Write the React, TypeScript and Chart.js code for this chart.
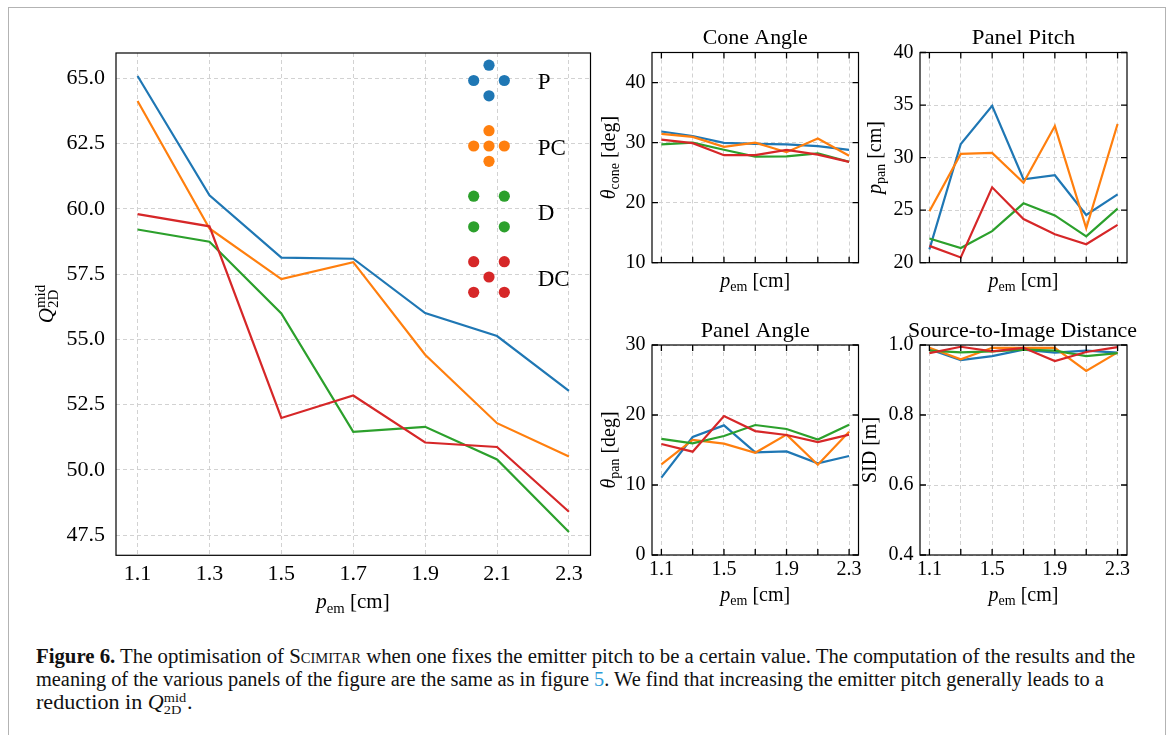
import React, { useEffect, useLayoutEffect, useRef } from "react";
import { Chart, registerables } from "chart.js";
Chart.register(...registerables);

const FONT = '"Liberation Serif", "Times New Roman", serif';
Chart.defaults.font.family = FONT;
Chart.defaults.color = "#000";

// ---------- data ----------
const pEm = [1.1, 1.3, 1.5, 1.7, 1.9, 2.1, 2.3];
const seriesLabels = ["P", "PC", "D", "DC"];
const seriesColors = ["#1f77b4", "#ff7f0e", "#2ca02c", "#d62728"];

// Q_2D^mid (main panel)
const qP = [65.09, 60.52, 58.13, 58.09, 56.01, 55.13, 53.03];
const qPC = [64.13, 59.25, 57.31, 57.96, 54.41, 51.79, 50.51];
const qD = [59.21, 58.74, 55.99, 51.46, 51.65, 50.4, 47.62];
const qDC = [59.8, 59.33, 51.99, 52.85, 51.05, 50.88, 48.4];

// Cone angle [deg]
const coneP = [31.84, 31.1, 29.95, 29.8, 29.7, 29.4, 28.8];
const conePC = [31.45, 30.95, 29.3, 30.0, 28.4, 30.67, 27.8];
const coneD = [29.7, 30.0, 28.8, 27.66, 27.7, 28.2, 26.8];
const coneDC = [30.5, 29.9, 27.9, 27.9, 28.78, 28.0, 26.8];

// Panel pitch [cm]
const pitchP = [21.27, 31.3, 34.92, 27.94, 28.32, 24.54, 26.5];
const pitchPC = [24.9, 30.35, 30.44, 27.6, 33.0, 23.27, 33.2];
const pitchD = [22.3, 21.4, 23.0, 25.65, 24.5, 22.5, 25.14];
const pitchDC = [21.6, 20.5, 27.17, 24.16, 22.7, 21.75, 23.6];

// Panel angle [deg]
const angP = [11.05, 16.86, 18.52, 14.67, 14.8, 13.1, 14.14];
const angPC = [12.95, 16.43, 15.9, 14.6, 17.2, 12.9, 17.6];
const angD = [16.6, 15.95, 17.0, 18.57, 18.0, 16.5, 18.6];
const angDC = [15.86, 14.76, 19.86, 17.7, 17.14, 16.14, 17.2];

// Source-to-image distance [m]
const sidP = [0.988, 0.957, 0.968, 0.987, 0.978, 0.984, 0.978];
const sidPC = [0.992, 0.959, 0.992, 0.992, 0.992, 0.926, 0.979];
const sidD = [0.984, 0.979, 0.982, 0.987, 0.984, 0.968, 0.977];
const sidDC = [0.977, 0.995, 0.982, 0.992, 0.954, 0.98, 0.994];

// ticks
const qTicks = [47.5, 50, 52.5, 55, 57.5, 60, 62.5, 65];
const coneTicks = [10, 20, 30, 40];
const pitchTicks = [20, 25, 30, 35, 40];
const angleTicks = [0, 10, 20, 30];
const sidTicks = [0.4, 0.6, 0.8, 1.0];

// legend glyph patterns (detector layouts)
const legendPatterns: number[][][] = [
  [[0, -1], [-1, 0], [1, 0], [0, 1]],
  [[0, -1], [-1, 0], [0, 0], [1, 0], [0, 1]],
  [[-1, -1], [1, -1], [-1, 1], [1, 1]],
  [[-1, -1], [1, -1], [0, 0], [-1, 1], [1, 1]],
];

// ---------- rich text ----------
type Part = { t: string; it?: boolean; sz: number; dy?: number; stack?: boolean };
type Txt = { parts: Part[]; x: number; y: number; rot?: number; fitW?: number; left?: boolean };

function fontOf(p: Part) {
  return `${p.it ? "italic " : ""}${p.sz}px ${FONT}`;
}
function measureParts(ctx: CanvasRenderingContext2D, parts: Part[]) {
  let w = 0;
  let stackW = -1;
  for (const p of parts) {
    ctx.font = fontOf(p);
    const pw = ctx.measureText(p.t).width;
    if (p.stack) {
      stackW = pw;
      continue;
    }
    if (stackW >= 0) {
      w += Math.max(pw, stackW);
      stackW = -1;
    } else w += pw;
  }
  if (stackW >= 0) w += stackW;
  return w;
}
function drawParts(ctx: CanvasRenderingContext2D, txt: Txt, ox: number, oy: number) {
  ctx.save();
  ctx.translate(txt.x - ox, txt.y - oy);
  if (txt.rot) ctx.rotate(txt.rot);
  const w = measureParts(ctx, txt.parts);
  if (txt.fitW) ctx.scale(txt.fitW / w, 1);
  let cx = txt.left ? 0 : -w / 2;
  ctx.fillStyle = "#000";
  ctx.textBaseline = "alphabetic";
  ctx.textAlign = "left";
  let stackW = -1;
  for (const p of txt.parts) {
    ctx.font = fontOf(p);
    const pw = ctx.measureText(p.t).width;
    ctx.fillText(p.t, cx, p.dy || 0);
    if (p.stack) {
      stackW = pw;
      continue;
    }
    if (stackW >= 0) {
      cx += Math.max(pw, stackW);
      stackW = -1;
    } else cx += pw;
  }
  ctx.restore();
}

const pemParts = (s: number): Part[] => [
  { t: "p", it: true, sz: s },
  { t: "em", sz: s * 0.7, dy: s * 0.22 },
  { t: " [cm]", sz: s },
];
const subParts = (sym: string, sub: string, unit: string, s: number): Part[] => [
  { t: sym, it: true, sz: s },
  { t: sub, sz: s * 0.7, dy: s * 0.22 },
  { t: unit, sz: s },
];

// ---------- panel ----------
type PanelSpec = {
  rect: number[];
  area: number[];
  xRange: number[];
  yRange: number[];
  xTicks: number[];
  yTicks: number[];
  xFmt: (v: number, i: number) => string;
  yFmt: (v: number) => string;
  showX: boolean;
  tickSize: number;
  xPad: number;
  yPad: number;
  series: number[][];
  innerTicks: boolean;
  texts: Txt[];
  legend?: boolean;
};

function Panel({ spec }: { spec: PanelSpec }) {
  const ref = useRef<HTMLCanvasElement>(null);
  useEffect(() => {
    const [rx, ry, rw, rh] = spec.rect;
    const [al, at, ar, ab] = spec.area;
    const deco = {
      id: "deco",
      afterDraw(chart: any) {
        const ctx: CanvasRenderingContext2D = chart.ctx;
        const a = chart.chartArea;
        const xs = chart.scales.x;
        const ys = chart.scales.y;
        ctx.save();
        ctx.strokeStyle = "#000";
        ctx.lineWidth = 1.3;
        if (spec.innerTicks) {
          ctx.beginPath();
          for (const v of spec.xTicks) {
            const px = xs.getPixelForValue(v);
            ctx.moveTo(px, a.bottom);
            ctx.lineTo(px, a.bottom - 6);
            ctx.moveTo(px, a.top);
            ctx.lineTo(px, a.top + 6);
          }
          for (const v of spec.yTicks) {
            const py = ys.getPixelForValue(v);
            ctx.moveTo(a.left, py);
            ctx.lineTo(a.left + 6, py);
            ctx.moveTo(a.right, py);
            ctx.lineTo(a.right - 6, py);
          }
          ctx.stroke();
        }
        ctx.lineWidth = 1.2;
        ctx.strokeRect(a.left, a.top, a.right - a.left, a.bottom - a.top);
        ctx.restore();
        for (const t of spec.texts) drawParts(ctx, t, rx, ry);
        if (spec.legend) {
          const unit = 15.3;
          const cx = a.left + 373;
          legendPatterns.forEach((pat, i) => {
            const cy = a.top + 27.5 + i * 65.5;
            ctx.save();
            ctx.fillStyle = seriesColors[i];
            for (const [dx, dy] of pat) {
              ctx.beginPath();
              ctx.arc(cx + dx * unit, cy + dy * unit, 5.6, 0, Math.PI * 2);
              ctx.fill();
            }
            ctx.fillStyle = "#000";
            ctx.font = `23px ${FONT}`;
            ctx.textAlign = "left";
            ctx.textBaseline = "alphabetic";
            ctx.fillText(seriesLabels[i], cx + 48.7, cy + 8.5);
            ctx.restore();
          });
        }
      },
    };
    const datasets = spec.series.map((s, i) => ({
      label: seriesLabels[i],
      data: pEm.map((x, j) => ({ x, y: s[j] })),
      borderColor: seriesColors[i],
      backgroundColor: seriesColors[i],
      borderWidth: 2.2,
      pointRadius: 0,
      tension: 0,
      fill: false,
      order: 3 - i,
    }));
    const grid = { color: "#d2d2d2", lineWidth: 1, drawTicks: false };
    const border = { display: false, dash: [4, 3] };
    const chart = new Chart(ref.current as HTMLCanvasElement, {
      type: "line",
      data: { datasets },
      options: {
        animation: false,
        responsive: false,
        devicePixelRatio: 1,
        layout: { padding: { top: at - ry, right: rx + rw - ar, left: 0, bottom: 0 } },
        plugins: { legend: { display: false }, tooltip: { enabled: false }, title: { display: false } },
        events: [],
        scales: {
          x: {
            type: "linear",
            min: spec.xRange[0],
            max: spec.xRange[1],
            afterBuildTicks: (s: any) => {
              s.ticks = spec.xTicks.map((v) => ({ value: v }));
            },
            afterFit: (s: any) => {
              s.height = ry + rh - ab;
              s.paddingLeft = 0;
              s.paddingRight = 0;
            },
            ticks: {
              display: spec.showX,
              autoSkip: false,
              maxRotation: 0,
              minRotation: 0,
              padding: spec.xPad,
              font: { size: spec.tickSize, family: FONT },
              color: "#000",
              callback: (v: any, i: number) => spec.xFmt(Number(v), i),
            },
            grid,
            border,
          },
          y: {
            type: "linear",
            min: spec.yRange[0],
            max: spec.yRange[1],
            afterBuildTicks: (s: any) => {
              s.ticks = spec.yTicks.map((v) => ({ value: v }));
            },
            afterFit: (s: any) => {
              s.width = al - rx;
              s.paddingTop = 0;
              s.paddingBottom = 0;
            },
            ticks: {
              autoSkip: false,
              padding: spec.yPad,
              font: { size: spec.tickSize, family: FONT },
              color: "#000",
              callback: (v: any) => spec.yFmt(Number(v)),
            },
            grid,
            border,
          },
        },
      },
      plugins: [deco],
    } as any);
    return () => chart.destroy();
  }, []);
  const [rx, ry, rw, rh] = spec.rect;
  return (
    <canvas
      ref={ref}
      width={rw}
      height={rh}
      style={{ position: "absolute", left: rx, top: ry, width: rw, height: rh }}
    />
  );
}

// ---------- layout ----------
const xR = [1.04, 2.36];
const fmt1 = (v: number) => v.toFixed(1);
const fmtInt = (v: number) => String(Math.round(v));
const everyOther = (v: number, i: number) => (i % 2 === 0 ? v.toFixed(1) : "");
const ROT = -Math.PI / 2;

const mainSpec: PanelSpec = {
  rect: [0, 0, 600, 625],
  area: [116, 53, 590.5, 555.3],
  xRange: xR,
  yRange: [46.73, 65.97],
  xTicks: pEm,
  yTicks: qTicks,
  xFmt: (v) => v.toFixed(1),
  yFmt: fmt1,
  showX: true,
  tickSize: 22,
  xPad: 6,
  yPad: 11,
  series: [qP, qPC, qD, qDC],
  innerTicks: false,
  legend: true,
  texts: [
    { parts: pemParts(21), x: 353, y: 608 },
    {
      parts: [
        { t: "Q", it: true, sz: 21 },
        { t: "mid", sz: 15, dy: -8, stack: true },
        { t: "2D", sz: 15, dy: 5 },
      ],
      x: 53,
      y: 304,
      rot: ROT,
    },
  ],
};

const L1 = 652, R1 = 858.5, L2 = 920, R2 = 1127;
const T1 = 52.5, B1 = 262.7, T2 = 345, B2 = 555;

const coneSpec: PanelSpec = {
  rect: [592, 0, 278, 300],
  area: [L1, T1, R1, B1],
  xRange: xR,
  yRange: [10, 45],
  xTicks: pEm,
  yTicks: coneTicks,
  xFmt: everyOther,
  yFmt: fmtInt,
  showX: false,
  tickSize: 20,
  xPad: 3,
  yPad: 6.5,
  series: [coneP, conePC, coneD, coneDC],
  innerTicks: true,
  texts: [
    { parts: [{ t: "Cone Angle", sz: 21 }], x: (L1 + R1) / 2, y: 44, fitW: 105 },
    { parts: pemParts(20), x: (L1 + R1) / 2, y: 287 },
    { parts: subParts("θ", "cone", " [deg]", 20), x: 615, y: (T1 + B1) / 2, rot: ROT },
  ],
};

const pitchSpec: PanelSpec = {
  rect: [862, 0, 300, 300],
  area: [L2, T1, R2, B1],
  xRange: xR,
  yRange: [20, 40],
  xTicks: pEm,
  yTicks: pitchTicks,
  xFmt: everyOther,
  yFmt: fmtInt,
  showX: false,
  tickSize: 20,
  xPad: 3,
  yPad: 6.5,
  series: [pitchP, pitchPC, pitchD, pitchDC],
  innerTicks: true,
  texts: [
    { parts: [{ t: "Panel Pitch", sz: 21 }], x: (L2 + R2) / 2, y: 44, fitW: 103.5 },
    { parts: pemParts(20), x: (L2 + R2) / 2, y: 287 },
    { parts: subParts("p", "pan", " [cm]", 20), x: 881, y: (T1 + B1) / 2, rot: ROT },
  ],
};

const angleSpec: PanelSpec = {
  rect: [592, 300, 278, 320],
  area: [L1, T2, R1, B2],
  xRange: xR,
  yRange: [0, 30],
  xTicks: pEm,
  yTicks: angleTicks,
  xFmt: everyOther,
  yFmt: fmtInt,
  showX: true,
  tickSize: 20,
  xPad: 3,
  yPad: 6.5,
  series: [angP, angPC, angD, angDC],
  innerTicks: true,
  texts: [
    { parts: [{ t: "Panel Angle", sz: 21 }], x: (L1 + R1) / 2, y: 337, fitW: 109 },
    { parts: pemParts(20), x: (L1 + R1) / 2, y: 601 },
    { parts: subParts("θ", "pan", " [deg]", 20), x: 615, y: (T2 + B2) / 2, rot: ROT },
  ],
};

const sidSpec: PanelSpec = {
  rect: [862, 300, 300, 320],
  area: [L2, T2, R2, B2],
  xRange: xR,
  yRange: [0.4, 1.0],
  xTicks: pEm,
  yTicks: sidTicks,
  xFmt: everyOther,
  yFmt: fmt1,
  showX: true,
  tickSize: 20,
  xPad: 3,
  yPad: 6.5,
  series: [sidP, sidPC, sidD, sidDC],
  innerTicks: true,
  texts: [
    { parts: [{ t: "Source-to-Image Distance", sz: 21 }], x: (L2 + R2) / 2 - 1, y: 337, fitW: 229 },
    { parts: pemParts(20), x: (L2 + R2) / 2, y: 601 },
    { parts: [{ t: "SID [m]", sz: 20 }], x: 875.5, y: (T2 + B2) / 2, rot: ROT },
  ],
};

// ---------- caption ----------
const CAP_SIZE = 20;
function CapLine({ top, target, children }: { top: number; target: number; children: any }) {
  const ref = useRef<HTMLDivElement>(null);
  useLayoutEffect(() => {
    const el = ref.current;
    if (!el) return;
    const w = el.offsetWidth;
    el.style.transform = `scaleX(${target / w})`;
  }, []);
  return (
    <div
      ref={ref}
      style={{
        position: "absolute",
        left: 36,
        top,
        whiteSpace: "nowrap",
        display: "inline-block",
        transformOrigin: "0 0",
        fontFamily: FONT,
        fontSize: CAP_SIZE,
        lineHeight: `${CAP_SIZE}px`,
        color: "#111",
      }}
    >
      {children}
    </div>
  );
}

function QMid() {
  return (
    <>
      <i>Q</i>
      <span style={{ position: "relative", display: "inline-block", width: 21, height: 0 }}>
        <span style={{ position: "absolute", left: 0, top: -18, fontSize: 13, lineHeight: "13px" }}>mid</span>
        <span style={{ position: "absolute", left: 0, top: -6, fontSize: 13, lineHeight: "13px" }}>2D</span>
      </span>
    </>
  );
}

export default function App() {
  const base = 16.75;
  return (
    <div
      style={{
        position: "absolute",
        left: 0,
        top: 0,
        width: 1171,
        height: 735,
        overflow: "hidden",
        background: "#fff",
      }}
    >
      <div
        style={{
          position: "absolute",
          left: 8,
          top: 7,
          width: 1158,
          height: 800,
          border: "1px solid #b3b3b3",
          boxSizing: "border-box",
        }}
      />
      <Panel spec={mainSpec} />
      <Panel spec={coneSpec} />
      <Panel spec={pitchSpec} />
      <Panel spec={angleSpec} />
      <Panel spec={sidSpec} />
      <CapLine top={663 - base} target={1099}>
        <b>Figure 6.</b> The optimisation of <span style={{ fontVariant: "small-caps" }}>Scimitar</span> when one
        fixes the emitter pitch to be a certain value. The computation of the results and the
      </CapLine>
      <CapLine top={686 - base} target={1068}>
        meaning of the various panels of the figure are the same as in figure{" "}
        <span style={{ color: "#2b9bd8" }}>5</span>. We find that increasing the emitter pitch generally leads to a
      </CapLine>
      <CapLine top={709 - base} target={157}>
        reduction in <QMid />.
      </CapLine>
    </div>
  );
}
